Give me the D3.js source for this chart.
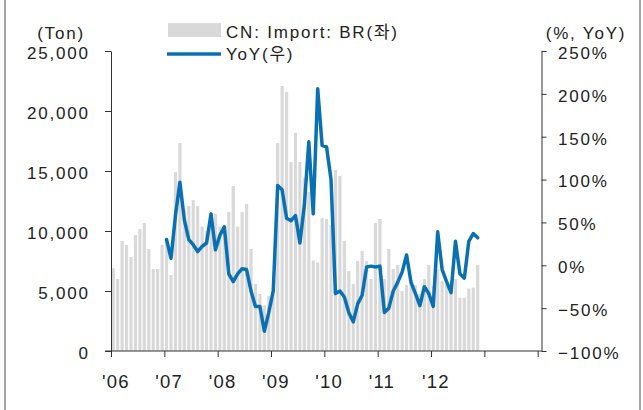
<!DOCTYPE html>
<html><head><meta charset="utf-8">
<script src="https://cdn.jsdelivr.net/npm/d3@7"></script>
<style>
html,body{margin:0;padding:0;background:#fff;}
svg{display:block;}
text{font-family:"Liberation Sans","Noto Sans CJK KR",Arial,sans-serif;font-size:17px;fill:#222;letter-spacing:1.8px;}
</style></head><body>
<svg id="c" width="643" height="410"></svg>
<script>
// Monthly import volume (Ton), Jan 2006 .. Nov 2012
const importTon = [
  6900, 6000, 9170, 8830, 7830, 9670, 10170, 10670, 8500, 6830, 6830, 8830,
  9400, 6330, 14900, 17330, 11700, 12080, 12580, 12080, 10360, 10000, 11500, 11420,
  10360, 10330, 11580, 13750, 10360, 11580, 12250, 8500, 5580, 4750, 3800, 4580,
  4700, 17330, 22080, 21580, 15750, 18190, 15750, 14420, 13250, 7530, 7360, 11060,
  11000, 10500, 15080, 14580, 9170, 6670, 5580, 7500, 8330, 7500, 6000, 10670,
  11000, 6000, 8500, 6830, 7170, 5000, 5500, 5920, 5500, 4750, 6000, 7170,
  5420, 6800, 5800, 5600, 5400, 6000, 4440, 4440, 5200, 5280, 7170
];
// YoY (%), Jan 2007 .. Nov 2012
const yoyPct = [
  30, 8, 58, 97, 53, 30, 24, 16, 22, 26, 60, 18,
  35, 45, -10, -19, -10, -4, -5, -30, -48, -48, -77, -55,
  -30, 93, 88, 55, 52, 58, 26, 70, 144, 60, 206, 140,
  138, 100, -33, -30, -37, -55, -66, -45, -35, -2, -1, -2,
  -1, -55, -50, -30, -20, -8, 12, -20, -33, -47, -25, -33,
  -48, 39, -5, -19, -32, 28, -10, -15, 28, 37, 32
];
const yoyStartMonth = 12;
const monthCount = 96;
const leftTicks = [0, 5000, 10000, 15000, 20000, 25000];
const rightTicks = [-100, -50, 0, 50, 100, 150, 200, 250];
const yearTicks = [2006, 2007, 2008, 2009, 2010, 2011, 2012, 2013, 2014];
const yearLabels = ["'06", "'07", "'08", "'09", "'10", "'11", "'12", "", ""];
const legendLabels = ["CN: Import: BR(좌)", "YoY(우)"];
const leftUnit = "(Ton)";
const rightUnit = "(%, YoY)";

const svg = d3.select("#c");
const L = 111, R = 541.5, T = 51, B = 351, XR = 537.7;
const barColor = "#d9d9d9", lineColor = "#0a70b4", axisColor = "#333";

// frame
svg.append("line").attr("x1",5).attr("x2",5).attr("y1",0).attr("y2",410).attr("stroke","#a6a6a6").attr("stroke-width",2);
svg.append("line").attr("x1",640).attr("x2",640).attr("y1",0).attr("y2",410).attr("stroke","#a6a6a6").attr("stroke-width",2);

const x = d3.scaleBand().domain(d3.range(monthCount)).range([L, XR]).paddingInner(0.28).paddingOuter(0.14);
const xYear = d3.scaleLinear().domain([2006, 2014]).range([L, XR]);
const yL = d3.scaleLinear().domain([0, 25000]).range([B, T]);
const yR = d3.scaleLinear().domain([-100, 250]).range([B, T]);

// bars
svg.append("g").selectAll("rect").data(importTon).join("rect")
  .attr("x", (d,i) => x(i)).attr("width", x.bandwidth())
  .attr("y", d => yL(d)).attr("height", d => B - yL(d))
  .attr("fill", barColor);

// line
const line = d3.line().x((d,i) => x(i + yoyStartMonth) + x.bandwidth()/2).y(d => yR(d));
svg.append("path").datum(yoyPct).attr("d", line)
  .attr("fill","none").attr("stroke", lineColor).attr("stroke-width",3.5)
  .attr("stroke-linejoin","round").attr("stroke-linecap","round");

function styleAxis(g){
  g.selectAll("path,line").attr("stroke", axisColor);
  g.selectAll("text").attr("fill","#222");
  g.attr("font-size",null).attr("font-family",null);
}

// left axis
const gL = svg.append("g").attr("transform",`translate(${L},0)`)
  .call(d3.axisLeft(yL).tickValues(leftTicks).tickSizeInner(6).tickSizeOuter(0).tickPadding(15.2).tickFormat(d3.format(",")));
styleAxis(gL);
gL.selectAll("text").attr("dy","0.43em");

// right axis
const gR = svg.append("g").attr("transform",`translate(${R},0)`)
  .call(d3.axisRight(yR).tickValues(rightTicks).tickSizeInner(5).tickSizeOuter(0).tickPadding(11.5).tickFormat(d => d3.format("d")(d) + "%"));
styleAxis(gR);
gR.selectAll("text").attr("dy","0.43em");

// bottom axis
const gB = svg.append("g").attr("transform",`translate(0,${B})`)
  .call(d3.axisBottom(xYear).tickValues(yearTicks).tickSizeInner(6).tickSizeOuter(0).tickFormat((d,i) => yearLabels[i]));
styleAxis(gB);
gB.select(".domain").remove();
gB.selectAll("text").attr("y",37).attr("dy",0).attr("x",-9.5).attr("text-anchor","start")
  .style("font-size","18.5px").style("letter-spacing","1.2px");
svg.append("line").attr("x1",105).attr("x2",R).attr("y1",B).attr("y2",B).attr("stroke",axisColor);

// units
svg.append("text").attr("x",61).attr("y",38.5).attr("text-anchor","middle").text(leftUnit);
svg.append("text").attr("x",586).attr("y",38.5).attr("text-anchor","middle").text(rightUnit);

// legend
svg.append("rect").attr("x",168).attr("y",23).attr("width",53).attr("height",14).attr("fill",barColor);
svg.append("text").attr("x",226).attr("y",37.5).text(legendLabels[0]);
svg.append("line").attr("x1",167).attr("x2",221).attr("y1",54).attr("y2",54).attr("stroke",lineColor).attr("stroke-width",3.5);
svg.append("text").attr("x",226).attr("y",60).text(legendLabels[1]);
</script>
</body></html>
